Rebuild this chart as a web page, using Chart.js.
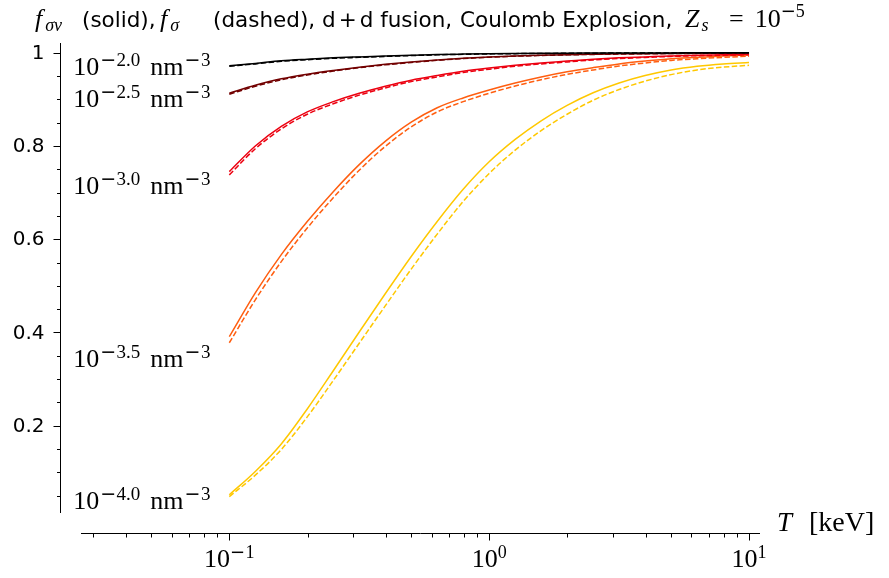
<!DOCTYPE html>
<html>
<head>
<meta charset="utf-8">
<script src="https://cdn.jsdelivr.net/npm/chart.js@4.4.1/dist/chart.umd.min.js"></script>
<style>
  html, body { margin: 0; padding: 0; background: #fff; }
</style>
</head>
<body>
<canvas id="fusionChart" width="889" height="578"></canvas>
<script>
// temperature grid [keV]
const temperatures = [0.1, 0.1259, 0.1585, 0.1995, 0.2512, 0.3162, 0.3981, 0.5012, 0.631, 0.7943, 1,
                      1.259, 1.585, 1.995, 2.512, 3.162, 3.981, 5.012, 6.31, 7.943, 10];

// density exponents (nm^-3) and line colours, one per curve pair
const densityExponents = ['−2.0', '−2.5', '−3.0', '−3.5', '−4.0'];
const lineColors = ['#000000', '#720000', '#ec0010', '#ff5e10', '#ffc800'];

// f_sigma_v (solid)
const fSigmaV_20 = [0.972, 0.977, 0.9825, 0.986, 0.989, 0.991, 0.9928, 0.9945, 0.996, 0.997, 0.9978,
                    0.9983, 0.9987, 0.999, 0.9992, 0.9994, 0.9995, 0.9996, 0.9997, 0.9997, 0.9998];
const fSigmaV_25 = [0.913, 0.930, 0.944, 0.954, 0.962, 0.969, 0.975, 0.980, 0.9845, 0.988, 0.991,
                    0.993, 0.9945, 0.9958, 0.9967, 0.9975, 0.998, 0.9985, 0.9988, 0.999, 0.9992];
const fSigmaV_30 = [0.745, 0.800, 0.842, 0.873, 0.895, 0.913, 0.928, 0.941, 0.951, 0.960, 0.967,
                    0.973, 0.978, 0.982, 0.986, 0.989, 0.991, 0.993, 0.9945, 0.9955, 0.9965];
const fSigmaV_35 = [0.391, 0.485, 0.567, 0.638, 0.702, 0.760, 0.810, 0.851, 0.882, 0.903, 0.920,
                    0.935, 0.948, 0.959, 0.968, 0.976, 0.982, 0.987, 0.990, 0.993, 0.995];
const fSigmaV_40 = [0.052, 0.102, 0.161, 0.236, 0.318, 0.401, 0.483, 0.563, 0.638, 0.707, 0.766,
                    0.814, 0.854, 0.887, 0.914, 0.935, 0.951, 0.963, 0.971, 0.976, 0.979];

// f_sigma (dashed)
const fSigma_20 = [0.971, 0.976, 0.9815, 0.985, 0.988, 0.990, 0.992, 0.9938, 0.9954, 0.9965, 0.9974,
                   0.998, 0.9984, 0.9987, 0.999, 0.9992, 0.9993, 0.9994, 0.9995, 0.9996, 0.9997];
const fSigma_25 = [0.911, 0.928, 0.942, 0.9522, 0.9605, 0.9678, 0.974, 0.979, 0.9837, 0.9873, 0.9904,
                   0.9925, 0.994, 0.9954, 0.9963, 0.9971, 0.9977, 0.9982, 0.9985, 0.9988, 0.999];
const fSigma_30 = [0.738, 0.794, 0.8365, 0.868, 0.8905, 0.909, 0.9245, 0.938, 0.948, 0.9575, 0.9645,
                   0.971, 0.976, 0.9802, 0.9845, 0.9875, 0.9898, 0.992, 0.9935, 0.9946, 0.9956];
const fSigma_35 = [0.378, 0.470, 0.552, 0.624, 0.689, 0.748, 0.799, 0.841, 0.873, 0.895, 0.913,
                   0.9285, 0.942, 0.9535, 0.963, 0.9715, 0.978, 0.9835, 0.987, 0.990, 0.9925];
const fSigma_40 = [0.048, 0.094, 0.149, 0.219, 0.297, 0.377, 0.457, 0.536, 0.611, 0.681, 0.741,
                   0.791, 0.833, 0.868, 0.898, 0.921, 0.939, 0.953, 0.963, 0.969, 0.973];

const solidSeries = [fSigmaV_20, fSigmaV_25, fSigmaV_30, fSigmaV_35, fSigmaV_40];
const dashedSeries = [fSigma_20, fSigma_25, fSigma_30, fSigma_35, fSigma_40];

// where the density labels sit on the y axis
const labelLevels = [0.9715, 0.9035, 0.716, 0.346, 0.0405];

// ticks
const yMajorTicks = [0.2, 0.4, 0.6, 0.8, 1];
const yTickLabels = ['0.2', '0.4', '0.6', '0.8', '1'];
const yMinorTicks = [0.05, 0.1, 0.15, 0.25, 0.3, 0.35, 0.45, 0.5, 0.55, 0.65, 0.7, 0.75, 0.85, 0.9, 0.95];
const xMajorTicks = [0.1, 1, 10];
const xTickExponents = ['−1', '0', '1'];
const xMinorTicks = [0.03, 0.04, 0.05, 0.06, 0.07, 0.08, 0.09,
                     0.2, 0.3, 0.4, 0.5, 0.6, 0.7, 0.8, 0.9,
                     2, 3, 4, 5, 6, 7, 8, 9];

const SERIF = '"Liberation Serif", "DejaVu Serif", serif';
const SANS = '"DejaVu Sans", sans-serif';

function toPoints(values) {
    return values.map((v, i) => ({ x: temperatures[i], y: v }));
}

const datasets = [];
solidSeries.forEach((values, i) => {
    datasets.push({
        data: toPoints(values),
        borderColor: lineColors[i],
        borderWidth: 1.5,
        pointRadius: 0,
        cubicInterpolationMode: 'monotone'
    });
    datasets.push({
        data: toPoints(dashedSeries[i]),
        borderColor: lineColors[i],
        borderWidth: 1.5,
        borderDash: [5.5, 2.4],
        pointRadius: 0,
        cubicInterpolationMode: 'monotone'
    });
});

// draws a sequence of text pieces left to right, returns the end x
function drawRuns(ctx, x, baseline, runs, measureOnly) {
    runs.forEach(run => {
        ctx.font = run.font;
        if (!measureOnly) ctx.fillText(run.text, x, baseline - (run.rise || 0));
        x += ctx.measureText(run.text).width + (run.pad || 0);
    });
    return x;
}

function supRuns(exp, size) {
    // exponent with a wide minus sign like TeX
    const runs = [];
    if (exp.startsWith('−')) {
        runs.push({ text: '−', font: `${size}px ${SANS}`, rise: 9, pad: 0.5 });
        exp = exp.slice(1);
    }
    runs.push({ text: exp, font: `${size}px ${SERIF}`, rise: 9 });
    return runs;
}

const axesAndText = {
    id: 'axesAndText',
    afterDraw(chart) {
        const { ctx, chartArea } = chart;
        const xs = chart.scales.x;
        const ys = chart.scales.y;
        const yAxisX = chartArea.left - 20.5;
        const xAxisY = chartArea.bottom + 20.5;

        ctx.save();
        ctx.strokeStyle = '#000';
        ctx.fillStyle = '#000';
        ctx.lineWidth = 1;

        // axis lines
        ctx.beginPath();
        ctx.moveTo(yAxisX, chartArea.top);
        ctx.lineTo(yAxisX, chartArea.bottom);
        ctx.moveTo(chartArea.left, xAxisY);
        ctx.lineTo(chartArea.right, xAxisY);
        ctx.stroke();

        // y ticks
        ctx.beginPath();
        yMajorTicks.forEach(v => {
            const py = Math.round(ys.getPixelForValue(v)) + 0.5;
            ctx.moveTo(yAxisX - 7, py);
            ctx.lineTo(yAxisX, py);
        });
        yMinorTicks.forEach(v => {
            const py = Math.round(ys.getPixelForValue(v)) + 0.5;
            ctx.moveTo(yAxisX - 3.5, py);
            ctx.lineTo(yAxisX, py);
        });
        // x ticks
        xMajorTicks.forEach(v => {
            const px = Math.round(xs.getPixelForValue(v)) + 0.5;
            ctx.moveTo(px, xAxisY);
            ctx.lineTo(px, xAxisY + 7);
        });
        xMinorTicks.forEach(v => {
            const px = Math.round(xs.getPixelForValue(v)) + 0.5;
            ctx.moveTo(px, xAxisY);
            ctx.lineTo(px, xAxisY + 4);
        });
        ctx.stroke();

        // y tick labels
        ctx.font = `20px ${SANS}`;
        ctx.textAlign = 'right';
        ctx.textBaseline = 'middle';
        yMajorTicks.forEach((v, i) => {
            ctx.fillText(yTickLabels[i], yAxisX - 16, ys.getPixelForValue(v) + 1);
        });

        ctx.textAlign = 'left';
        ctx.textBaseline = 'alphabetic';

        // x tick labels: 10^n
        xMajorTicks.forEach((v, i) => {
            const runs = [{ text: '10', font: `26px ${SERIF}` }].concat(supRuns(xTickExponents[i], 18));
            const w = drawRuns(ctx, 0, 0, runs, true);
            drawRuns(ctx, xs.getPixelForValue(v) - w / 2, xAxisY + 33, runs);
        });

        // axis label
        drawRuns(ctx, chartArea.right + 17, xAxisY - 3, [
            { text: 'T', font: `italic 27px ${SERIF}`, pad: 17 },
            { text: '[keV]', font: `28px ${SERIF}` }
        ]);

        // density labels
        const labelX = xs.getPixelForValue(0.02506);
        labelLevels.forEach((v, i) => {
            const base = ys.getPixelForValue(v) + 9;
            let x = drawRuns(ctx, labelX, base, [{ text: '10', font: `26px ${SERIF}` }]);
            x = drawRuns(ctx, x + 1, base, supRuns(densityExponents[i], 19));
            x = drawRuns(ctx, x + 10, base, [{ text: 'nm', font: `26px ${SERIF}` }]);
            drawRuns(ctx, x + 1, base, supRuns('−3', 19));
        });

        // title pieces, each placed at its own x
        const sansT = `21.5px ${SANS}`;
        const mathF = `italic 26px ${SERIF}`;
        const mathSub = `italic 18px ${SERIF}`;
        const tBase = 27;
        drawRuns(ctx, 35, tBase, [
            { text: 'f', font: mathF, pad: 3 },
            { text: 'σv', font: mathSub, rise: -4 }
        ]);
        drawRuns(ctx, 82, tBase, [{ text: '(solid),', font: sansT }]);
        drawRuns(ctx, 160, tBase, [
            { text: 'f', font: mathF, pad: 3 },
            { text: 'σ', font: mathSub, rise: -4 }
        ]);
        drawRuns(ctx, 213, tBase, [{ text: '(dashed),', font: sansT }]);
        drawRuns(ctx, 322, tBase, [
            { text: 'd', font: sansT, pad: 3 },
            { text: '+', font: sansT, pad: 3 },
            { text: 'd fusion,', font: sansT }
        ]);
        drawRuns(ctx, 460, tBase, [{ text: 'Coulomb Explosion,', font: sansT }]);
        drawRuns(ctx, 685, tBase, [
            { text: 'Z', font: mathF, pad: 2 },
            { text: 's', font: mathSub, rise: -4 }
        ]);
        drawRuns(ctx, 729, tBase, [
            { text: '=', font: `26px ${SERIF}`, pad: 11 },
            { text: '10', font: `26px ${SERIF}` },
            { text: '−', font: `18px ${SANS}`, rise: 10 },
            { text: '5', font: `18px ${SERIF}`, rise: 10 }
        ]);
        ctx.restore();
    }
};

const ctx = document.getElementById('fusionChart').getContext('2d');
const fusionChart = new Chart(ctx, {
    type: 'line',
    data: { datasets: datasets },
    options: {
        responsive: false,
        animation: false,
        layout: {
            padding: { left: 81, right: 129, top: 43, bottom: 65 }
        },
        plugins: {
            legend: { display: false },
            tooltip: { enabled: false }
        },
        scales: {
            x: { type: 'logarithmic', min: 0.02687, max: 11.02, display: false },
            y: { type: 'linear', min: 0.0129, max: 1.0208, display: false }
        }
    },
    plugins: [axesAndText]
});
</script>
</body>
</html>
